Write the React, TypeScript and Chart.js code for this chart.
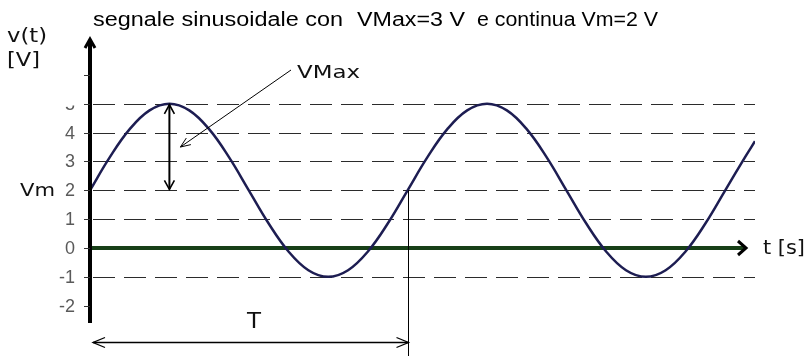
import { useEffect, useRef } from "react";
import { Chart, registerables } from "chart.js";

Chart.register(...registerables);

// ---- data ----
// time in sixteenths of a period (T = 16 units)
const timeSamples = [
  0, 1, 2, 3, 4, 5, 6, 7, 8, 9, 10, 11, 12, 13, 14, 15, 16,
  17, 18, 19, 20, 21, 22, 23, 24, 25, 26, 27, 28, 29, 30, 31, 32, 33, 33.5,
];
const voltageSamples = [
  2, 3.15, 4.12, 4.77, 5, 4.77, 4.12, 3.15, 2, 0.85, -0.12, -0.77, -1, -0.77, -0.12, 0.85, 2,
  3.15, 4.12, 4.77, 5, 4.77, 4.12, 3.15, 2, 0.85, -0.12, -0.77, -1, -0.77, -0.12, 0.85, 2, 3.15, 3.7,
];
const yTickValues = [-2, -1, 0, 1, 2, 3, 4, 5, 6];
const yTickLabels = ["-2", "-1", "0", "1", "2", "3", "4", "5", ""];
const dashedGridValues = [-1, 1, 2, 3, 4, 5];
const periodStart = 0;
const periodEnd = 16;
const peakTime = 4;
const vMaxValue = 5;
const vMeanValue = 2;
const pointerTargetValue = 3.5;
const titleParts = ["segnale sinusoidale con", "VMax=3 V", "e continua Vm=2 V"];
const yAxisTitle = ["v(t)", "[V]"];
const xAxisTitle = "t [s]";
const vMaxLabel = "VMax";
const vmLabel = "Vm";
const periodLabel = "T";

const X_MIN = 0;
const X_MAX = 33.5;
const Y_MIN = -2.6;
const Y_MAX = 7.28;

function fitText(
  ctx: CanvasRenderingContext2D,
  text: string,
  x: number,
  baseline: number,
  width: number,
  font: string,
  color: string
) {
  ctx.save();
  ctx.font = font;
  ctx.fillStyle = color;
  ctx.textAlign = "left";
  ctx.textBaseline = "alphabetic";
  const w = ctx.measureText(text).width || 1;
  ctx.translate(x, baseline);
  ctx.scale(width / w, 1);
  ctx.fillText(text, 0, 0);
  ctx.restore();
}

function openHead(
  ctx: CanvasRenderingContext2D,
  tipX: number,
  tipY: number,
  fromX: number,
  fromY: number,
  len: number,
  half: number
) {
  const a = Math.atan2(tipY - fromY, tipX - fromX);
  const bx = tipX - len * Math.cos(a);
  const by = tipY - len * Math.sin(a);
  const nx = -Math.sin(a) * half;
  const ny = Math.cos(a) * half;
  ctx.beginPath();
  ctx.moveTo(bx + nx, by + ny);
  ctx.lineTo(tipX, tipY);
  ctx.lineTo(bx - nx, by - ny);
  ctx.stroke();
}

const decorPlugin = {
  id: "decor",
  beforeDatasetsDraw(chart: any) {
    const { ctx, chartArea } = chart;
    const ys = chart.scales.y;
    ctx.save();
    // dashed grid lines
    ctx.strokeStyle = "#2b2b2b";
    ctx.lineWidth = 1;
    ctx.setLineDash([22, 9]);
    for (const v of dashedGridValues) {
      const py = Math.round(ys.getPixelForValue(v)) + 0.5;
      ctx.beginPath();
      ctx.moveTo(chartArea.left + 3, py);
      ctx.lineTo(chartArea.right, py);
      ctx.stroke();
    }
    ctx.setLineDash([]);
    // x axis (green) with arrow
    const y0 = ys.getPixelForValue(0);
    ctx.strokeStyle = "#173f17";
    ctx.lineWidth = 4;
    ctx.beginPath();
    ctx.moveTo(chartArea.left, y0);
    ctx.lineTo(chartArea.right - 10, y0);
    ctx.stroke();
    ctx.strokeStyle = "#000";
    ctx.lineWidth = 3;
    ctx.lineJoin = "miter";
    ctx.beginPath();
    ctx.moveTo(chartArea.right - 17, y0 - 7);
    ctx.lineTo(chartArea.right - 9, y0);
    ctx.lineTo(chartArea.right - 17, y0 + 7);
    ctx.stroke();
    ctx.restore();
  },
  afterDatasetsDraw(chart: any) {
    const { ctx, chartArea } = chart;
    const xs = chart.scales.x;
    const ys = chart.scales.y;
    ctx.save();

    // y axis with arrow
    const ax = chartArea.left;
    ctx.strokeStyle = "#000";
    ctx.lineWidth = 4;
    ctx.beginPath();
    ctx.moveTo(ax, chartArea.bottom);
    ctx.lineTo(ax, chartArea.top + 3);
    ctx.stroke();
    ctx.lineWidth = 3;
    ctx.beginPath();
    ctx.moveTo(ax - 5, chartArea.top + 10);
    ctx.lineTo(ax, chartArea.top + 1);
    ctx.lineTo(ax + 5, chartArea.top + 10);
    ctx.stroke();

    // ticks and labels
    ctx.lineWidth = 1;
    ctx.strokeStyle = "#333";
    ctx.font = "18px 'Liberation Sans', Arial, sans-serif";
    ctx.fillStyle = "#5a5a5a";
    ctx.textAlign = "right";
    ctx.textBaseline = "middle";
    yTickValues.forEach((v, i) => {
      const py = Math.round(ys.getPixelForValue(v)) + 0.5;
      ctx.beginPath();
      ctx.moveTo(ax - 6, py);
      ctx.lineTo(ax, py);
      ctx.stroke();
      const lab = yTickLabels[i];
      if (!lab) return;
      if (v === vMaxValue) {
        ctx.save();
        ctx.beginPath();
        ctx.rect(0, py + 1, ax, 14);
        ctx.clip();
        ctx.fillText(lab, 75, py + 1);
        ctx.restore();
      } else {
        ctx.fillText(lab, 75, py + 1);
      }
    });

    // title
    const tFont = "20px 'Liberation Sans', Arial, sans-serif";
    fitText(ctx, titleParts[0], 93, 26, 250, tFont, "#000");
    fitText(ctx, titleParts[1], 357, 26, 108, tFont, "#000");
    fitText(ctx, titleParts[2], 477, 26, 181, tFont, "#000");

    // axis titles
    const vFont = "19px 'DejaVu Sans', Verdana, sans-serif";
    fitText(ctx, yAxisTitle[0], 7, 42, 40, vFont, "#111");
    fitText(ctx, yAxisTitle[1], 7, 66, 33, vFont, "#111");
    const y0 = ys.getPixelForValue(0);
    fitText(ctx, xAxisTitle, 763, y0 + 6, 42, vFont, "#111");

    // Vm label
    fitText(ctx, vmLabel, 20, ys.getPixelForValue(vMeanValue) + 6, 35, "18px 'DejaVu Sans', Verdana, sans-serif", "#111");

    // VMax double arrow
    const px = xs.getPixelForValue(peakTime);
    const pTop = ys.getPixelForValue(vMaxValue);
    const pBot = ys.getPixelForValue(vMeanValue);
    ctx.strokeStyle = "#000";
    ctx.lineWidth = 2;
    ctx.beginPath();
    ctx.moveTo(px, pTop + 1);
    ctx.lineTo(px, pBot - 1);
    ctx.stroke();
    ctx.lineWidth = 1.6;
    openHead(ctx, px, pTop + 1, px, pBot, 9, 5);
    openHead(ctx, px, pBot - 1, px, pTop, 9, 5);

    // VMax pointer
    const tx = px + 11;
    const ty = ys.getPixelForValue(pointerTargetValue);
    ctx.lineWidth = 1;
    ctx.beginPath();
    ctx.moveTo(291, 70);
    ctx.lineTo(tx, ty);
    ctx.stroke();
    openHead(ctx, tx, ty, 291, 70, 10, 4);
    fitText(ctx, vMaxLabel, 297, 78, 63, "18px 'DejaVu Sans', Verdana, sans-serif", "#111");

    // period marker
    const x1 = xs.getPixelForValue(periodStart);
    const x2 = Math.round(xs.getPixelForValue(periodEnd)) + 0.5;
    ctx.lineWidth = 1;
    ctx.beginPath();
    ctx.moveTo(x2, ys.getPixelForValue(vMeanValue));
    ctx.lineTo(x2, chart.height);
    ctx.stroke();
    const ay = 342.5;
    ctx.lineWidth = 1.3;
    ctx.beginPath();
    ctx.moveTo(x1 + 3, ay);
    ctx.lineTo(x2, ay);
    ctx.stroke();
    openHead(ctx, x1 + 3, ay, x2, ay, 12, 5);
    openHead(ctx, x2, ay, x1, ay, 12, 5);
    fitText(ctx, periodLabel, 247, 328, 14, "22px 'DejaVu Sans', Verdana, sans-serif", "#111");

    ctx.restore();
  },
};

export default function App() {
  const ref = useRef<HTMLCanvasElement | null>(null);
  useEffect(() => {
    const canvas = ref.current;
    if (!canvas) return;
    const points = timeSamples.map((t, i) => ({ x: t, y: voltageSamples[i] }));
    const chart = new Chart(canvas, {
      type: "line",
      data: {
        datasets: [
          {
            data: points,
            borderColor: "#1d1d52",
            borderWidth: 2.5,
            pointRadius: 0,
            tension: 0.4,
            fill: false,
          },
        ],
      },
      options: {
        animation: false,
        responsive: false,
        events: [],
        layout: { padding: { left: 90, right: 53, top: 38, bottom: 33 } },
        scales: {
          x: { type: "linear", min: X_MIN, max: X_MAX, display: false },
          y: { type: "linear", min: Y_MIN, max: Y_MAX, display: false },
        },
        plugins: {
          legend: { display: false },
          tooltip: { enabled: false },
          title: { display: false },
        },
      },
      plugins: [decorPlugin],
    });
    return () => chart.destroy();
  }, []);
  return (
    <div style={{ position: "absolute", left: 0, top: 0, width: 808, height: 356, background: "#fff" }}>
      <canvas ref={ref} width={808} height={356} />
    </div>
  );
}
